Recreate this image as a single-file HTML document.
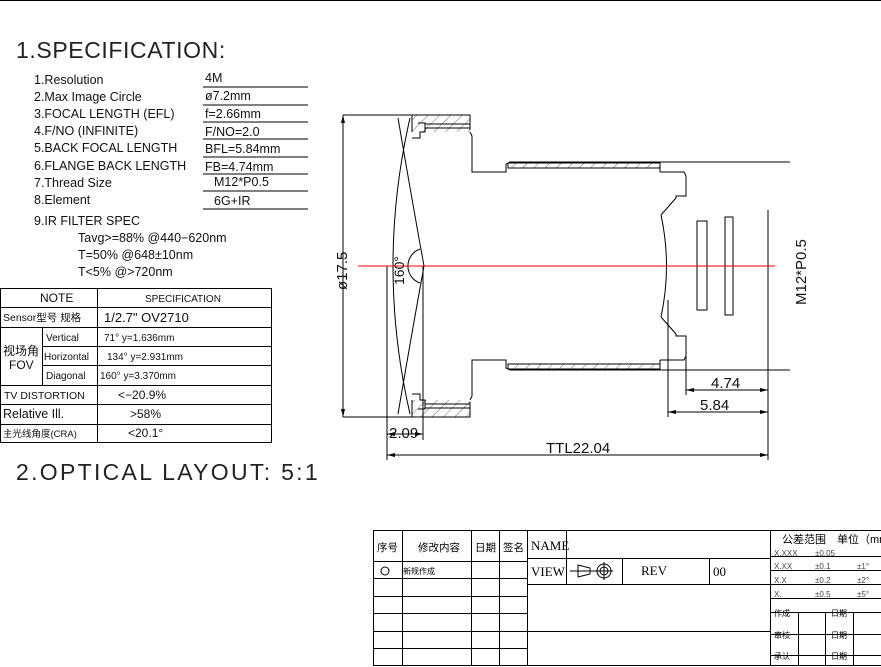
<!DOCTYPE html>
<html><head><meta charset="utf-8"><style>
html,body{margin:0;padding:0;background:#fff;}
svg{display:block;font-family:"Liberation Sans","Noto Sans CJK SC",sans-serif;}
</style></head><body>
<svg width="881" height="667" viewBox="0 0 881 667" xmlns="http://www.w3.org/2000/svg">
<defs>
<pattern id="h" width="8" height="8" patternUnits="userSpaceOnUse" patternTransform="rotate(45)">
<line x1="0" y1="0" x2="0" y2="8" stroke="#444" stroke-width="0.8"/></pattern>
</defs>
<line x1="0" y1="0.5" x2="881" y2="0.5" stroke="#000"/>
<text x="16" y="58" font-size="23" fill="#222" letter-spacing="0.6">1.SPECIFICATION:</text>
<g font-size="12.5" fill="#111">
<text x="34" y="84">1.Resolution</text>
<text x="34" y="101">2.Max Image Circle</text>
<text x="34" y="118">3.FOCAL LENGTH (EFL)</text>
<text x="34" y="135">4.F/NO (INFINITE)</text>
<text x="34" y="152">5.BACK FOCAL LENGTH</text>
<text x="34" y="170">6.FLANGE BACK LENGTH</text>
<text x="34" y="187">7.Thread Size</text>
<text x="34" y="204">8.Element</text>
<text x="34" y="225">9.IR FILTER SPEC</text>
<text x="78" y="242">Tavg&gt;=88% @440−620nm</text>
<text x="78" y="259">T=50% @648±10nm</text>
<text x="78" y="276">T&lt;5% @&gt;720nm</text>
<text x="205" y="82">4M</text>
<text x="205" y="100">ø7.2mm</text>
<text x="205" y="118">f=2.66mm</text>
<text x="205" y="136">F/NO=2.0</text>
<text x="205" y="153">BFL=5.84mm</text>
<text x="205" y="171">FB=4.74mm</text>
<text x="214" y="186">M12*P0.5</text>
<text x="214" y="205">6G+IR</text>
</g>
<g stroke="#000" stroke-width="1">
<line x1="203" y1="87" x2="308" y2="87"/><line x1="203" y1="105" x2="308" y2="105"/>
<line x1="203" y1="122" x2="308" y2="122"/><line x1="203" y1="139" x2="308" y2="139"/>
<line x1="203" y1="157" x2="308" y2="157"/><line x1="203" y1="174" x2="308" y2="174"/>
<line x1="203" y1="191" x2="308" y2="191"/><line x1="203" y1="209" x2="308" y2="209"/>
</g>
<g stroke="#000" stroke-width="1" fill="none">
<rect x="0.5" y="288.5" width="271" height="154"/>
<line x1="0" y1="307.5" x2="272" y2="307.5"/><line x1="0" y1="327.5" x2="272" y2="327.5"/>
<line x1="42" y1="346.5" x2="272" y2="346.5"/><line x1="42" y1="365.5" x2="272" y2="365.5"/>
<line x1="0" y1="385.5" x2="272" y2="385.5"/><line x1="0" y1="404.5" x2="272" y2="404.5"/>
<line x1="0" y1="424.5" x2="272" y2="424.5"/>
<line x1="97.5" y1="288" x2="97.5" y2="443"/><line x1="42.5" y1="327" x2="42.5" y2="385"/>
</g>
<g font-size="11" fill="#111">
<text x="40" y="302" font-size="12">NOTE</text>
<text x="145" y="302" font-size="10">SPECIFICATION</text>
<text x="3" y="321" font-size="10.5">Sensor型号 规格</text>
<text x="104" y="322" font-size="13">1/2.7" OV2710</text>
<text x="46" y="341" font-size="10">Vertical</text>
<text x="104" y="341" font-size="10">71° y=1.636mm</text>
<text x="44" y="360" font-size="10">Horizontal</text>
<text x="107" y="360" font-size="10">134° y=2.931mm</text>
<text x="46" y="379" font-size="10">Diagonal</text>
<text x="100" y="379" font-size="10">160° y=3.370mm</text>
<text x="3" y="355" font-size="12">视场角</text>
<text x="9" y="369" font-size="12">FOV</text>
<text x="4" y="399" font-size="10.5">TV DISTORTION</text>
<text x="118" y="399" font-size="12">&lt;−20.9%</text>
<text x="3" y="418" font-size="12.5">Relative Ill.</text>
<text x="130" y="418" font-size="12">&gt;58%</text>
<text x="3" y="437" font-size="9.5">主光线角度(CRA)</text>
<text x="128" y="437" font-size="12">&lt;20.1°</text>
</g>
<text x="16" y="480" font-size="23" fill="#222" letter-spacing="2.3">2.OPTICAL LAYOUT: 5:1</text>

<g stroke="#000" stroke-width="1" fill="none">
<rect x="508" y="163" width="152" height="5" fill="url(#h)"/>
<rect x="508" y="364" width="152" height="5" fill="url(#h)"/>
<rect x="412" y="115" width="58" height="17" fill="url(#h)" stroke="none"/>
<rect x="412" y="400" width="58" height="17" fill="url(#h)" stroke="none"/>
<path d="M343,115 H470 V130 M343,417 H470 V402"/>
<path d="M412,115 V132 M412,417 V400"/>
<path d="M425,124 H470 M425,128 H470 M425,404 H470 M425,408 H470"/>
<path d="M418,123 H425 V132 H420 V138 H412 M418,409 H425 V400 H420 V394 H412"/>
<path d="M470,132 L472,136 V172 H506 V164 L510,162 H790 M660,162 V172"/>
<path d="M470,400 L472,396 V360 H506 V368 L510,370 H790 M660,370 V360"/>
<path d="M660,172 H684 L686,176 V196 H676 V198 L661,215"/>
<path d="M660,360 H684 L686,356 V336 H676 V334 L661,317"/>
<path d="M661,215 Q672,266 661,317"/>
<path d="M410,118 Q376,266 410,414"/>
<path d="M398,118 Q412,200 424,266 Q412,332 398,414"/>
<path d="M420,249 A18,18 0 0 0 420,283"/>
<rect x="697" y="221" width="10" height="89"/>
<rect x="725" y="217" width="8" height="98"/>
<line x1="768" y1="210" x2="768" y2="460"/>
<line x1="343" y1="115" x2="343" y2="417"/>
<line x1="387" y1="266" x2="387" y2="460"/>
<line x1="423" y1="266" x2="423" y2="440"/>
<line x1="686" y1="336" x2="686" y2="395"/>
<line x1="668" y1="300" x2="668" y2="417"/>
<line x1="686" y1="390" x2="768" y2="390"/>
<line x1="668" y1="412" x2="768" y2="412"/>
<line x1="387" y1="434" x2="423" y2="434"/>
<line x1="387" y1="455" x2="768" y2="455"/>
</g>
<g fill="#000">
<path d="M343,115 l-2,8 h4z M343,417 l-2,-8 h4z"/>
<path d="M768,390 l-8,-2 v4z M768,412 l-8,-2 v4z M768,455 l-8,-2 v4z M387,455 l8,-2 v4z M387,434 l8,-2 v4z M423,434 l-8,-2 v4z M686,390 l8,-2 v4z M668,412 l8,-2 v4z"/>
</g>
<line x1="358" y1="266" x2="775" y2="266" stroke="#f00" stroke-width="1"/>
<g font-size="15" fill="#111">
<text transform="translate(347,290) rotate(-90)">ø17.5</text>
<text transform="translate(404,285) rotate(-90)" font-size="14">160°</text>
<text transform="translate(806,305) rotate(-90)" font-size="15">M12*P0.5</text>
<text x="711" y="388">4.74</text>
<text x="700" y="410">5.84</text>
<text x="389" y="438">2.09</text>
<text x="546" y="453">TTL22.04</text>
</g>

<g stroke="#000" stroke-width="1" fill="none">
<rect x="373.5" y="530.5" width="510" height="135"/>
<line x1="402.5" y1="530" x2="402.5" y2="665"/><line x1="471.5" y1="530" x2="471.5" y2="665"/>
<line x1="499.5" y1="530" x2="499.5" y2="665"/><line x1="527.5" y1="530" x2="527.5" y2="665"/>
<line x1="770.5" y1="530" x2="770.5" y2="665"/>
<line x1="373" y1="561.5" x2="527" y2="561.5"/><line x1="373" y1="578.5" x2="527" y2="578.5"/>
<line x1="373" y1="596.5" x2="527" y2="596.5"/><line x1="373" y1="613.5" x2="527" y2="613.5"/>
<line x1="373" y1="631.5" x2="527" y2="631.5"/><line x1="373" y1="648.5" x2="527" y2="648.5"/>
<line x1="527" y1="558.5" x2="770" y2="558.5"/><line x1="527" y1="584.5" x2="770" y2="584.5"/>
<line x1="527" y1="631.5" x2="770" y2="631.5"/>
<line x1="566.5" y1="530" x2="566.5" y2="584"/><line x1="622.5" y1="558" x2="622.5" y2="584"/>
<line x1="709.5" y1="558" x2="709.5" y2="584"/>
<line x1="770" y1="556.5" x2="881" y2="556.5"/><line x1="770" y1="570.5" x2="881" y2="570.5"/>
<line x1="770" y1="584.5" x2="881" y2="584.5"/><line x1="770" y1="598.5" x2="881" y2="598.5"/>
<line x1="770" y1="612.5" x2="881" y2="612.5"/><line x1="770" y1="634.5" x2="881" y2="634.5"/>
<line x1="770" y1="655.5" x2="881" y2="655.5"/>
<line x1="798.5" y1="612" x2="798.5" y2="665"/><line x1="825.5" y1="612" x2="825.5" y2="665"/>
<line x1="853.5" y1="612" x2="853.5" y2="665"/>
<path d="M570,571 H599 M578,565 V577 L590,574 V568 Z"/>
<circle cx="604" cy="571" r="7"/><circle cx="604" cy="571" r="4"/>
<path d="M595,571 H613 M604,562 V580"/>
<circle cx="385" cy="571" r="4"/>
</g>
<g fill="#000" font-size="10.5">
<text x="377" y="551">序号</text><text x="418" y="551">修改内容</text>
<text x="475" y="551">日期</text><text x="503" y="551">签名</text>
<text x="403" y="574" font-size="8">新规作成</text>
<text x="531" y="550" font-family="Liberation Serif" font-size="13">NAME</text>
<text x="531" y="576" font-family="Liberation Serif" font-size="13">VIEW</text>
<text x="641" y="575" font-family="Liberation Serif" font-size="13">REV</text>
<text x="713" y="576" font-family="Liberation Serif" font-size="13">00</text>
<text x="782" y="543" font-size="11">公差范围　单位（mm）</text>
<g font-size="8" fill="#444">
<text x="774" y="556">X.XXX</text><text x="815" y="556">±0.05</text>
<text x="774" y="569">X.XX</text><text x="815" y="569">±0.1</text><text x="857" y="569">±1°</text>
<text x="774" y="583">X.X</text><text x="815" y="583">±0.2</text><text x="857" y="583">±2°</text>
<text x="774" y="597">X.</text><text x="815" y="597">±0.5</text><text x="857" y="597">±5°</text>
</g>
<g font-size="8">
<text x="774" y="616">作成</text><text x="831" y="616">日期</text>
<text x="774" y="638">审核</text><text x="831" y="638">日期</text>
<text x="774" y="659">承认</text><text x="831" y="659">日期</text>
</g>
</g>
</svg>
</body></html>
